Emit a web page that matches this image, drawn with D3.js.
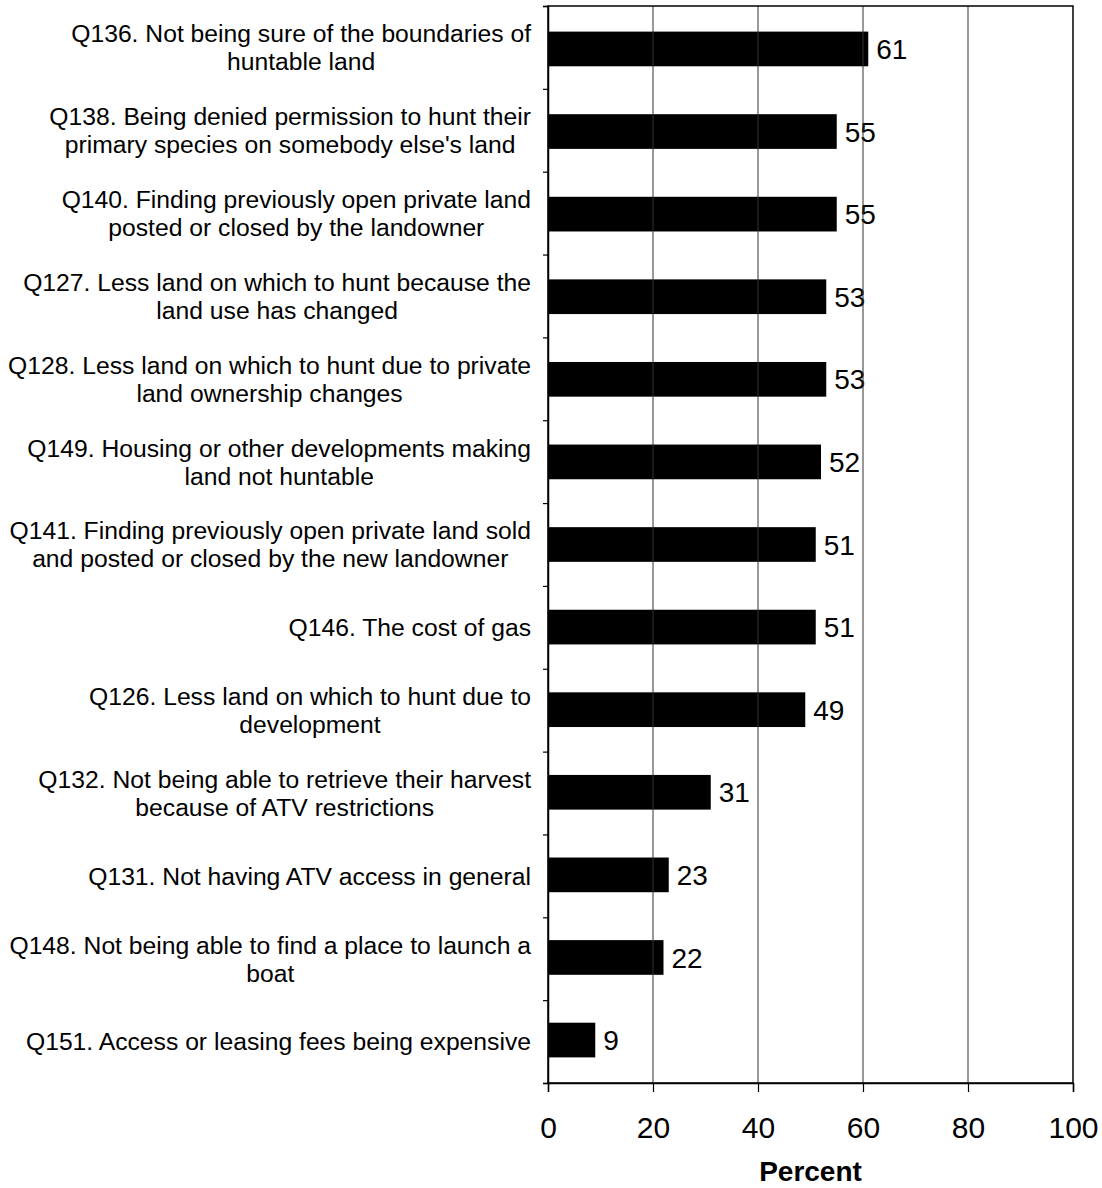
<!DOCTYPE html>
<html>
<head>
<meta charset="utf-8">
<script src="https://cdn.jsdelivr.net/npm/d3@7"></script>
<style>
  html, body { margin: 0; padding: 0; background: #fff; }
  svg { display: block; font-family: "Liberation Sans", Arial, sans-serif; }
</style>
</head>
<body>
<svg id="chart" width="1102" height="1188"></svg>
<script>
const categories = [
  ["Q136. Not being sure of the boundaries of", "huntable land"],
  ["Q138. Being denied permission to hunt their", "primary species on somebody else's land"],
  ["Q140. Finding previously open private land", "posted or closed by the landowner"],
  ["Q127. Less land on which to hunt because the", "land use has changed"],
  ["Q128. Less land on which to hunt due to private", "land ownership changes"],
  ["Q149. Housing or other developments making", "land not huntable"],
  ["Q141. Finding previously open private land sold", "and posted or closed by the new landowner"],
  ["Q146. The cost of gas"],
  ["Q126. Less land on which to hunt due to", "development"],
  ["Q132. Not being able to retrieve their harvest", "because of ATV restrictions"],
  ["Q131. Not having ATV access in general"],
  ["Q148. Not being able to find a place to launch a", "boat"],
  ["Q151. Access or leasing fees being expensive"]
];
const values = [61, 55, 55, 53, 53, 52, 51, 51, 49, 31, 23, 22, 9];
const xTicks = [0, 20, 40, 60, 80, 100];
const xTitle = "Percent";

const svg = d3.select("#chart");
const L = 548, R = 1073, T = 6, B = 1083;

const x = d3.scaleLinear().domain([0, 100]).range([L, R]);
const y = d3.scaleBand().domain(d3.range(categories.length)).range([T, B]).paddingInner(0.58).paddingOuter(0.31).align(0.5);
const yb = d3.scaleBand().domain(d3.range(categories.length)).range([T, B]);

// bars
svg.append("g").selectAll("rect").data(values).join("rect")
  .attr("x", x(0))
  .attr("y", (d, i) => y(i))
  .attr("width", d => x(d) - x(0))
  .attr("height", y.bandwidth())
  .attr("fill", "#000");

// value labels
svg.append("g").selectAll("text").data(values).join("text")
  .attr("x", d => x(d) + 8)
  .attr("y", (d, i) => y(i) + y.bandwidth() / 2)
  .attr("dy", "0.36em")
  .attr("font-size", 28)
  .attr("fill", "#000")
  .text(d => d);

// gridlines
svg.append("g").selectAll("line").data(xTicks.slice(1, -1)).join("line")
  .attr("x1", d => x(d)).attr("x2", d => x(d))
  .attr("y1", T).attr("y2", B)
  .attr("stroke", "#333").attr("stroke-width", 1);

// frame
svg.append("rect").attr("x", L).attr("y", T).attr("width", R - L).attr("height", B - T)
  .attr("fill", "none").attr("stroke", "#000").attr("stroke-width", 1.5);

// left axis ticks at band boundaries
const yAxis = d3.axisLeft(d3.scaleLinear().domain([0, categories.length]).range([T, B]))
  .tickValues(d3.range(categories.length + 1)).tickSize(5).tickFormat("");
svg.append("g").attr("transform", `translate(${L},0)`).call(yAxis)
  .call(g => g.select(".domain").attr("stroke-width", 1.5))
  .call(g => g.selectAll(".tick line").attr("stroke-width", 1.2));

// bottom axis
const xAxis = d3.axisBottom(x).tickValues(xTicks).tickSize(9).tickPadding(25).tickFormat(d => d);
svg.append("g").attr("transform", `translate(0,${B})`).call(xAxis)
  .call(g => g.select(".domain").attr("stroke-width", 1.5))
  .call(g => g.selectAll(".tick line").attr("stroke-width", 1.2))
  .call(g => g.selectAll(".tick text").attr("font-size", 30).attr("font-family", "Liberation Sans, Arial, sans-serif").attr("fill", "#000"));

// category labels: right-aligned block, lines centred within the block
const RIGHT = 531, FS = 24.7, LH = 28;
const lab = svg.append("g").selectAll("text").data(categories).join("text")
  .attr("font-size", FS)
  .attr("fill", "#000")
  .attr("text-anchor", "middle");
lab.each(function(d, i) {
  const t = d3.select(this);
  const cy = yb(i) + yb.bandwidth() / 2;
  const start = -(d.length - 1) * LH / 2;
  const spans = d.map((line, k) =>
    t.append("tspan").attr("y", cy + start + k * LH).attr("dy", "0.36em").text(line));
  const w = d3.max(spans, s => s.node().getComputedTextLength());
  spans.forEach(s => s.attr("x", RIGHT - w / 2));
});

// axis title
svg.append("text").attr("x", (L + R) / 2).attr("y", 1181)
  .attr("text-anchor", "middle").attr("font-size", 28).attr("font-weight", "bold")
  .text(xTitle);
</script>
</body>
</html>
